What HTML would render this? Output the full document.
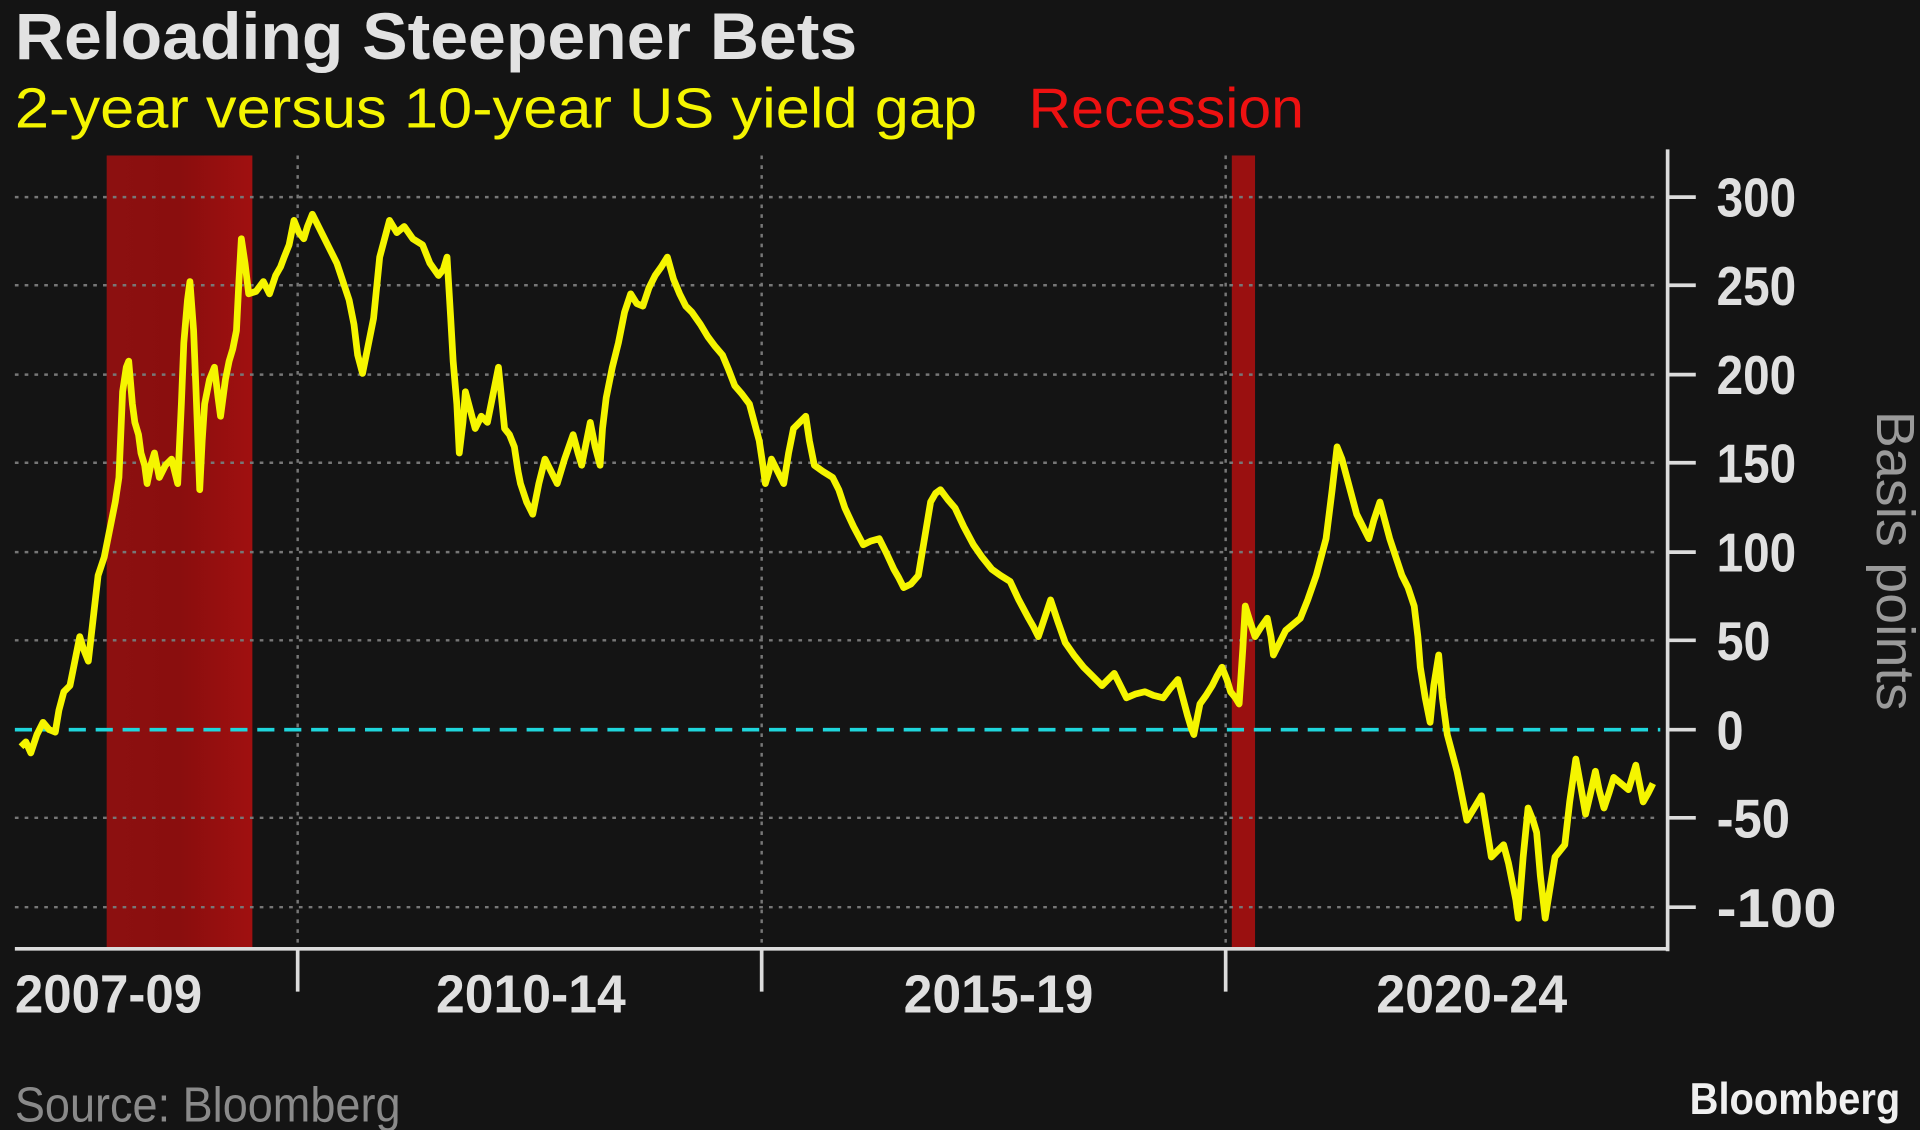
<!DOCTYPE html>
<html><head><meta charset="utf-8"><style>html,body{margin:0;padding:0;background:#141414;}svg{display:block;}</style></head>
<body>
<svg width="1920" height="1130" viewBox="0 0 1568 923" xmlns="http://www.w3.org/2000/svg" font-family="'Liberation Sans', sans-serif">
<defs><linearGradient id="rg" x1="0" x2="1" y1="0" y2="0"><stop offset="0" stop-color="#8c1010"/><stop offset="0.5" stop-color="#8a0e0e"/><stop offset="1" stop-color="#a01010"/></linearGradient></defs>
<rect width="1568" height="923" fill="#141414"/>
<text x="12" y="48" font-size="54" font-weight="bold" fill="#e2e2e2" textLength="688" lengthAdjust="spacingAndGlyphs">Reloading Steepener Bets</text>
<text x="12" y="104" font-size="46" fill="#f5f500" textLength="786" lengthAdjust="spacingAndGlyphs">2-year versus 10-year US yield gap</text>
<text x="840" y="104" font-size="46" fill="#ee1111" textLength="225" lengthAdjust="spacingAndGlyphs">Recession</text>
<rect x="87" y="127" width="119" height="648" fill="url(#rg)"/>
<rect x="1006" y="127" width="19" height="648" fill="#9a1010"/>
<g stroke="#777" stroke-width="2" stroke-dasharray="3,5">
<line x1="12" x2="1356" y1="161" y2="161"/><line x1="12" x2="1356" y1="233" y2="233"/>
<line x1="12" x2="1356" y1="306" y2="306"/><line x1="12" x2="1356" y1="378" y2="378"/>
<line x1="12" x2="1356" y1="451" y2="451"/><line x1="12" x2="1356" y1="523" y2="523"/>
<line x1="12" x2="1356" y1="668" y2="668"/><line x1="12" x2="1356" y1="741" y2="741"/>
<line x1="243" x2="243" y1="127" y2="775"/><line x1="622" x2="622" y1="127" y2="775"/><line x1="1001" x2="1001" y1="127" y2="775"/>
</g>
<line x1="12" x2="1356" y1="596" y2="596" stroke="#1fd6dc" stroke-width="3" stroke-dasharray="14,8"/>
<polyline fill="none" stroke="#f5f500" stroke-width="5.5" stroke-linejoin="round" points="17,610 21,606 25,615 30,600 35,590 40,596 45,598 48,580 52,565 57,560 61,540 65,520 68,530 72,540 76,505 80,470 85,455 90,430 94,410 97,390 100,320 103,300 105,295 108,330 110,345 113,355 115,370 118,380 120,395 123,380 126,370 130,390 135,380 140,375 145,395 148,330 150,280 153,245 155,230 158,270 160,320 163,400 165,360 167,330 171,310 175,300 178,325 180,340 184,310 187,295 190,285 193,270 195,230 197,195 200,215 203,240 209,238 215,230 220,240 225,225 229,218 232,210 236,200 240,180 244,190 248,195 251,185 255,175 260,185 265,195 270,205 275,215 280,230 285,245 289,265 292,290 296,305 300,285 305,260 310,210 314,195 318,180 324,190 330,185 337,195 345,200 351,215 358,225 362,220 365,210 368,260 370,295 373,330 375,370 378,345 380,320 384,335 388,350 393,340 398,345 402,325 407,300 410,330 412,350 416,355 420,365 423,385 425,395 430,410 435,420 440,395 445,375 450,385 455,395 461,375 468,355 472,370 475,380 479,360 482,345 486,365 490,380 492,350 495,325 500,300 505,280 510,255 515,240 520,248 525,250 530,235 535,225 540,218 545,210 550,228 555,240 560,250 565,255 572,265 578,275 584,283 590,290 595,302 600,315 606,322 612,330 616,345 620,360 623,380 625,395 628,385 630,375 635,385 640,395 644,370 648,350 653,345 658,340 661,360 665,380 672,385 680,390 685,400 690,415 697,430 705,445 711,442 718,440 724,452 730,465 734,472 738,480 744,477 750,470 755,440 760,410 764,403 768,400 774,408 780,415 787,430 795,445 802,455 810,465 817,470 825,475 832,490 840,505 844,512 848,520 853,505 858,490 864,508 870,525 877,535 885,545 892,552 900,560 905,555 910,550 915,560 920,570 927,567 935,565 942,568 950,570 956,562 962,555 966,570 970,585 973,595 975,600 978,585 980,575 985,568 990,560 994,552 998,545 1002,555 1005,565 1009,570 1012,575 1015,530 1017,495 1021,508 1025,520 1030,512 1035,505 1038,520 1040,535 1045,525 1050,515 1056,510 1062,505 1068,490 1075,470 1079,455 1083,440 1088,400 1092,365 1096,375 1100,390 1104,405 1108,420 1113,430 1118,440 1122,425 1127,410 1131,425 1135,440 1140,455 1145,470 1150,480 1155,495 1158,520 1160,545 1164,570 1168,590 1171,560 1175,535 1178,570 1182,600 1186,615 1190,630 1194,650 1198,670 1204,660 1210,650 1214,675 1218,700 1223,695 1228,690 1232,705 1235,720 1238,735 1240,750 1244,700 1248,660 1252,670 1255,680 1258,715 1262,750 1266,725 1270,700 1274,695 1278,690 1282,655 1287,620 1291,642 1295,665 1299,648 1303,630 1306,645 1310,660 1314,648 1318,635 1324,640 1330,645 1333,635 1336,625 1339,640 1342,655 1346,648 1350,640"/>
<g stroke="#dcdcdc" stroke-width="3">
<line x1="1362" x2="1362" y1="122" y2="777"/><line x1="12" x2="1363" y1="775" y2="775"/>
<line x1="1362" x2="1385" y1="161" y2="161"/><line x1="1362" x2="1385" y1="233" y2="233"/>
<line x1="1362" x2="1385" y1="306" y2="306"/><line x1="1362" x2="1385" y1="378" y2="378"/>
<line x1="1362" x2="1385" y1="451" y2="451"/><line x1="1362" x2="1385" y1="523" y2="523"/>
<line x1="1362" x2="1385" y1="596" y2="596"/><line x1="1362" x2="1385" y1="668" y2="668"/>
<line x1="1362" x2="1385" y1="741" y2="741"/>
<line x1="243" x2="243" y1="775" y2="810"/><line x1="622" x2="622" y1="775" y2="810"/><line x1="1001" x2="1001" y1="775" y2="810"/>
</g>
<g font-size="45" font-weight="bold" fill="#e0e0e0">
<text x="1402" y="177" textLength="65" lengthAdjust="spacingAndGlyphs">300</text>
<text x="1402" y="249" textLength="65" lengthAdjust="spacingAndGlyphs">250</text>
<text x="1402" y="322" textLength="65" lengthAdjust="spacingAndGlyphs">200</text>
<text x="1402" y="394" textLength="65" lengthAdjust="spacingAndGlyphs">150</text>
<text x="1402" y="467" textLength="65" lengthAdjust="spacingAndGlyphs">100</text>
<text x="1402" y="539" textLength="44" lengthAdjust="spacingAndGlyphs">50</text>
<text x="1402" y="612" textLength="22" lengthAdjust="spacingAndGlyphs">0</text>
<text x="1402" y="684" textLength="60" lengthAdjust="spacingAndGlyphs">-50</text>
<text x="1402" y="757" textLength="98" lengthAdjust="spacingAndGlyphs">-100</text>
</g>
<g font-size="44" font-weight="bold" fill="#e0e0e0">
<text x="12" y="827" textLength="153" lengthAdjust="spacingAndGlyphs">2007-09</text>
<text x="356" y="827" textLength="155" lengthAdjust="spacingAndGlyphs">2010-14</text>
<text x="738" y="827" textLength="155" lengthAdjust="spacingAndGlyphs">2015-19</text>
<text x="1124" y="827" textLength="156" lengthAdjust="spacingAndGlyphs">2020-24</text>
</g>
<text transform="translate(1533,458) rotate(90)" text-anchor="middle" font-size="44" fill="#9a9a9a" textLength="245" lengthAdjust="spacingAndGlyphs">Basis points</text>
<text x="12" y="916" font-size="40" fill="#8a8a8a" textLength="315" lengthAdjust="spacingAndGlyphs">Source: Bloomberg</text>
<text x="1380" y="910" font-size="36" font-weight="bold" fill="#f0f0f0" textLength="172" lengthAdjust="spacingAndGlyphs">Bloomberg</text>
</svg>
</body></html>
